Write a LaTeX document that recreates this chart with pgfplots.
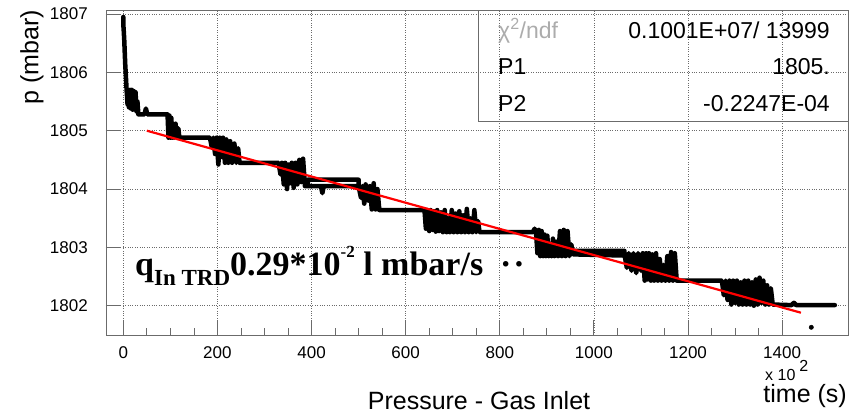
\documentclass[border=0pt]{standalone}
\usepackage{fontspec}
\setmainfont{Liberation Sans}
\newfontfamily\timesfont{Liberation Serif}
\usepackage{pgfplots}
\pgfplotsset{compat=1.18}
\definecolor{framegray}{gray}{0.42}
\begin{document}
\begin{tikzpicture}
\useasboundingbox (-106pt,-79pt) rectangle (751pt,335pt);
\begin{axis}[
  at={(0pt,0pt)}, anchor=south west,
  scale only axis, width=742pt, height=325pt,
  xmin=-36.8, xmax=1540, ymin=1801.498, ymax=1807.069,
  xtick={0,200,...,1400}, ytick={1802,1803,...,1807},
  minor x tick num=3, minor y tick num=4,
  tick align=inside, tick pos=left,
  major tick length=15pt, minor tick length=7pt,
  every tick/.style={framegray, line width=0.8pt},
  axis line style={framegray, line width=0.8pt},
  grid=major,
  major grid style={framegray, dotted, line width=0.7pt},
  scaled ticks=false,
  /pgf/number format/assume math mode=true,
  /pgf/number format/1000 sep={},
  tick label style={font=\fontsize{17}{17}\selectfont},
  every tick label/.append style={font=\fontsize{17}{17}\selectfont},
  yticklabel style={inner sep=0pt, anchor=east, xshift=-18pt},
  xticklabel style={inner sep=0pt, anchor=north, yshift=-11pt},
]
% pressure readings (time in 10^2 s, pressure in mbar)
\addplot[black, line width=4.5pt, line join=round, line cap=round] coordinates {
(0,1806.95) (0,1806.82) (1,1806.70) (2,1806.55) (3,1806.35) (4,1806.15) (5,1806.0) (6,1805.85) (7,1805.70)
(9,1805.45) (10,1805.70) (12,1805.40) (14,1805.70) (16,1805.38) (18,1805.70) (20,1805.36) (22,1805.68) (24,1805.40)
(26,1805.66) (28,1805.33) (30,1805.50) (32,1805.28)
(45,1805.28) (48,1805.38) (51,1805.28) (94,1805.28)
(96,1804.88) (98,1805.26) (100,1804.88) (102,1805.22) (104,1804.88) (106,1805.0) (108,1804.88)
(111,1805.12) (114,1804.88) (117,1805.04) (119,1804.88)
(184,1804.88)
(188,1804.72) (191,1804.88) (195,1804.60) (198,1804.88) (202,1804.42) (205,1804.88) (209,1804.55) (212,1804.88)
(216,1804.45) (219,1804.85) (223,1804.45) (227,1804.82) (231,1804.45) (236,1804.78) (240,1804.45) (244,1804.7) (247,1804.45)
(330,1804.45)
(334,1804.25) (337,1804.45) (341,1804.08) (344,1804.45) (348,1804.0) (351,1804.42) (355,1804.1) (358,1804.45)
(362,1804.02) (366,1804.45) (370,1804.08) (374,1804.5) (378,1804.12) (382,1804.52) (386,1804.05)
(500,1804.05) (500,1804.16) (392,1804.16) (392,1804.05) (420,1804.05) (423,1803.93) (426,1804.05)
(500,1804.05)
(505,1803.85) (508,1804.05) (512,1803.75) (515,1804.08) (520,1803.8) (524,1804.05) (528,1803.65) (532,1804.1)
(536,1803.65) (540,1804.0) (544,1803.64)
(640,1803.64)
(643,1803.32) (646,1803.64) (650,1803.28) (653,1803.64) (657,1803.3) (660,1803.62) (664,1803.27) (667,1803.64)
(671,1803.28) (675,1803.6) (679,1803.26) (683,1803.64) (687,1803.26) (690,1803.5) (694,1803.26) (698,1803.64)
(702,1803.26) (706,1803.58) (710,1803.26) (714,1803.62) (718,1803.26) (722,1803.55) (726,1803.26) (730,1803.66)
(734,1803.26) (738,1803.5) (742,1803.26) (746,1803.64) (750,1803.26) (754,1803.45) (757,1803.26)
(870,1803.26)
(874,1803.32) (877,1803.26) (880,1802.9) (883,1803.3) (886,1802.85) (889,1803.28) (892,1802.85) (895,1803.22)
(898,1802.85) (901,1803.2) (904,1802.85) (907,1803.05) (910,1802.85) (913,1803.15) (916,1802.85) (920,1803.1)
(924,1802.85) (928,1803.28) (932,1802.85) (936,1803.3) (940,1802.85) (944,1803.28) (948,1802.85) (952,1803.05) (956,1802.88)
(1065,1802.86) (1065,1802.94) (960,1802.94) (960,1802.88) (1065,1802.88)
(1070,1802.65) (1074,1802.9) (1080,1802.6) (1084,1802.9) (1090,1802.56) (1094,1802.9) (1100,1802.6) (1104,1802.9)
(1108,1802.43) (1111,1802.9) (1114,1802.45) (1117,1802.9) (1121,1802.43) (1124,1802.88) (1128,1802.43) (1132,1802.9)
(1136,1802.43) (1140,1802.8) (1144,1802.43) (1148,1802.7) (1152,1802.43) (1156,1802.85) (1160,1802.43) (1164,1802.92)
(1168,1802.43) (1172,1802.9) (1176,1802.43)
(1272,1802.43)
(1276,1802.18) (1280,1802.43) (1284,1802.1) (1288,1802.43) (1292,1802.02) (1296,1802.43) (1300,1802.05) (1304,1802.43)
(1308,1802.02) (1312,1802.4) (1316,1802.02) (1320,1802.43) (1324,1802.02) (1328,1802.43) (1332,1802.02) (1336,1802.4)
(1340,1802.0) (1344,1802.45) (1348,1802.02) (1352,1802.48) (1356,1802.05) (1360,1802.43) (1364,1802.02) (1368,1802.35)
(1372,1802.02) (1376,1802.3) (1380,1802.02)
(1420,1802.01) (1425,1802.05) (1430,1802.01) (1512,1802.01)
};
\addplot[only marks, mark=*, mark size=2.2pt, black] coordinates {(1462,1801.63)};
% linear fit p = P1 + P2 t
\addplot[red, line width=2.2pt] coordinates {(50,1805.0) (1440,1801.88)};
\end{axis}
% fit statistics box
\draw[framegray, line width=0.8pt] (372pt,214pt) rectangle (742pt,325pt);
\begin{scope}[every node/.style={inner sep=0pt, font=\fontsize{23}{23}\selectfont}]
\node[anchor=base west, text=gray!65] at (392pt,296.7pt) {χ\textsuperscript{2}/ndf};
\node[anchor=base east] at (724pt,296.7pt) {0.1001E+07/ 13999};
\node[anchor=base west] at (392pt,260pt) {P1};
\node[anchor=base east] at (724pt,260pt) {1805.};
\node[anchor=base west] at (392pt,223pt) {P2};
\node[anchor=base east] at (724pt,223pt) {-0.2247E-04};
\end{scope}
% annotation
\node[anchor=base west, inner sep=0pt, font=\timesfont\bfseries\fontsize{34}{34}\selectfont] at (29pt,59pt)
  {q\raisebox{-10pt}{\fontsize{23}{23}\selectfont In TRD}0.29*10\raisebox{18pt}{\fontsize{17}{17}\selectfont -2} l mbar/s};
\node[anchor=base west, inner sep=0pt, font=\timesfont\bfseries\fontsize{34}{34}\selectfont] at (394pt,59pt) {·\hspace{2pt}·};
% axis titles
\node[rotate=90, anchor=east, inner sep=0pt, font=\fontsize{25}{25}\selectfont] at (-74pt,325pt) {p (mbar)};
\node[anchor=base, inner sep=0pt, font=\fontsize{25}{25}\selectfont] at (373pt,-75pt) {Pressure - Gas Inlet};
\node[anchor=base east, inner sep=0pt, font=\fontsize{25}{25}\selectfont] at (741pt,-68pt) {time (s)};
\node[anchor=base west, inner sep=0pt, font=\fontsize{16}{16}\selectfont] at (659pt,-46pt) {x 10\hspace{4pt}\raisebox{9pt}{2}};
\end{tikzpicture}
\end{document}
